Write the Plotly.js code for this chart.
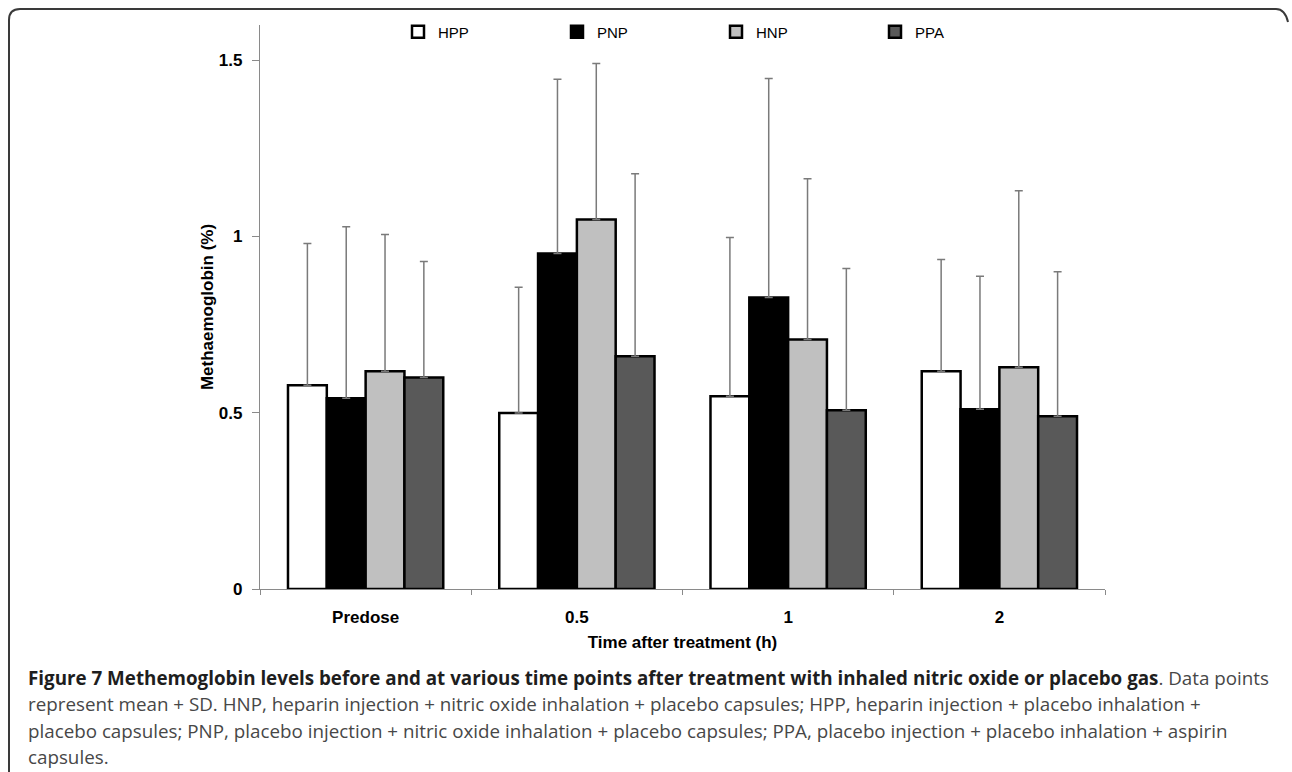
<!DOCTYPE html>
<html>
<head>
<meta charset="utf-8">
<script src="https://cdn.plot.ly/plotly-3.0.1.min.js"></script>
<style>
  html, body { margin: 0; padding: 0; background: #ffffff; }
  #chart { width: 1292px; height: 772px; }
</style>
</head>
<body>
<div id="chart"></div>
<script>
// ---- Data ----
const categories = ['Predose', '0.5', '1', '2'];
const seriesNames = ['HPP', 'PNP', 'HNP', 'PPA'];
const hppMean = [0.578, 0.499, 0.547, 0.618];
const hppSD   = [0.402, 0.357, 0.450, 0.317];
const pnpMean = [0.541, 0.952, 0.827, 0.510];
const pnpSD   = [0.487, 0.494, 0.621, 0.377];
const hnpMean = [0.618, 1.048, 0.708, 0.629];
const hnpSD   = [0.388, 0.443, 0.456, 0.501];
const ppaMean = [0.600, 0.660, 0.507, 0.490];
const ppaSD   = [0.329, 0.518, 0.402, 0.410];
const yTicks = [0, 0.5, 1, 1.5];
const yTickText = ['0', '0.5', '1', '1.5'];

const captionLines = [
  '<span style="color:#1e1e1e"><b>Figure 7 Methemoglobin levels before and at various time points after treatment with inhaled nitric oxide or placebo gas</b></span>. Data points',
  'represent mean + SD. HNP, heparin injection + nitric oxide inhalation + placebo capsules; HPP, heparin injection + placebo inhalation +',
  'placebo capsules; PNP, placebo injection + nitric oxide inhalation + placebo capsules; PPA, placebo injection + placebo inhalation + aspirin',
  'capsules.'
];

// ---- Layout geometry (pixels) ----
const W = 1292, H = 772;
const M = { l: 260, r: 187, t: 25, b: 183 };
const PW = W - M.l - M.r, PH = H - M.t - M.b;
const px = x => (x - M.l) / PW;          // pixel -> paper x
const py = y => (H - M.b - y) / PH;      // pixel -> paper y

const fills = ['#ffffff', '#000000', '#c0c0c0', '#595959'];
const means = [hppMean, pnpMean, hnpMean, ppaMean];
const sds = [hppSD, pnpSD, hnpSD, ppaSD];

const traces = seriesNames.map((name, i) => ({
  type: 'bar',
  name: name,
  x: categories,
  y: means[i],
  marker: { color: fills[i], line: { color: '#000000', width: 2.5 } },
  error_y: { type: 'data', array: sds[i], symmetric: false, arrayminus: sds[i].map(() => 0),
             visible: true, color: '#7a7a7a', thickness: 1.5, width: 4 },
  hoverinfo: 'skip'
}));

const FAM = 'Liberation Sans, Arial, sans-serif';

const annotations = captionLines.map((t, i) => ({
  xref: 'paper', yref: 'paper',
  x: px(26), y: py(678 + i * 26.3),
  xanchor: 'left', yanchor: 'middle',
  text: t, showarrow: false, align: 'left',
  font: { family: 'Open Sans, Noto Sans, sans-serif', size: 18.8, color: '#474747' }
}));

const framePath = `M ${px(1288)},${py(22)} Q ${px(1285)},${py(9)} ${px(1276)},${py(9)} L ${px(20)},${py(9)} Q ${px(9)},${py(9)} ${px(9)},${py(20)} L ${px(9)},${py(780)}`;

const layout = {
  width: W, height: H,
  margin: M,
  paper_bgcolor: '#ffffff',
  plot_bgcolor: '#ffffff',
  barmode: 'group',
  bargap: 0.265,
  bargroupgap: 0,
  showlegend: true,
  legend: {
    orientation: 'h',
    x: px(398), y: py(32), xanchor: 'left', yanchor: 'middle',
    entrywidth: 114, entrywidthmode: 'pixels',
    itemwidth: 30,
    font: { family: FAM, size: 15, color: '#000000' },
    bgcolor: 'rgba(0,0,0,0)',
    traceorder: 'normal'
  },
  xaxis: {
    type: 'category',
    range: [-0.5, 3.5],
    showline: true, linecolor: '#8a8a8a', linewidth: 1.2,
    ticks: 'outside', tickson: 'boundaries', ticklen: 5, tickcolor: '#8a8a8a',
    showgrid: false, zeroline: false,
    tickfont: { family: FAM, size: 17, color: '#000000', weight: 'bold' },
    ticklabelstandoff: 12,
    title: { text: '<b>Time after treatment (h)</b>', standoff: 10,
             font: { family: FAM, size: 17, color: '#000000' } },
    fixedrange: true
  },
  yaxis: {
    range: [0, 1.6],
    tickvals: yTicks, ticktext: yTickText.map(t => '<b>' + t + '</b>'),
    showline: true, linecolor: '#8a8a8a', linewidth: 1.2,
    ticks: 'outside', ticklen: 7, tickcolor: '#8a8a8a',
    showgrid: false, zeroline: false,
    tickfont: { family: FAM, size: 17, color: '#000000' },
    ticklabelstandoff: 6,
    title: { text: '<b>Methaemoglobin (%)</b>', standoff: 0,
             font: { family: FAM, size: 17, color: '#000000' } },
    fixedrange: true
  },
  annotations: annotations,
  shapes: [{
    type: 'path', xref: 'paper', yref: 'paper', path: framePath,
    line: { color: '#3a3a3a', width: 2 }, layer: 'above'
  }]
};

Plotly.newPlot('chart', traces, layout, { displayModeBar: false, staticPlot: true });
</script>
</body>
</html>
